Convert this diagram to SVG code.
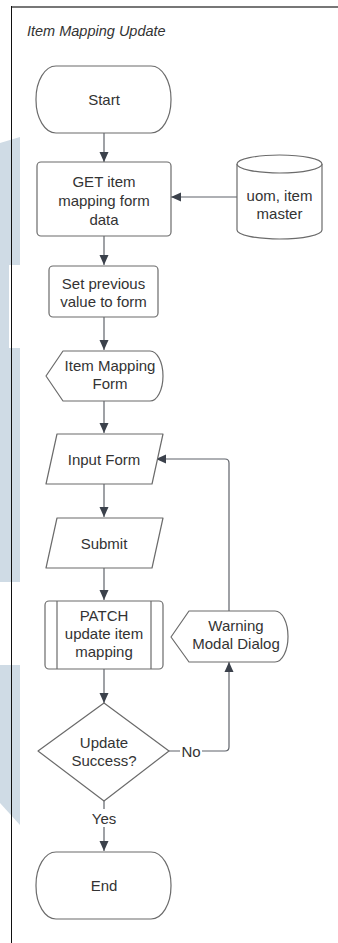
<svg xmlns="http://www.w3.org/2000/svg" width="338" height="943" viewBox="0 0 338 943">
  <style>
    .shape { fill: #ffffff; stroke: #6b6b6b; stroke-width: 1.2; stroke-linejoin: round; }
    .edge { fill: none; stroke: #5f636a; stroke-width: 1.2; }
    .label { font-family: "Liberation Sans", Arial, sans-serif; font-size: 15px; fill: #333333; text-anchor: middle; dominant-baseline: central; }
    .title { font-family: "Liberation Sans", Arial, sans-serif; font-size: 14.5px; font-style: italic; fill: #333333; }
    .band { fill: #cfdbe5; }
  </style>
  <defs>
    <marker id="arrow" viewBox="0 0 10 10" refX="10" refY="5" markerWidth="10" markerHeight="10" markerUnits="userSpaceOnUse" orient="auto">
      <path d="M0,0.5 L10,5 L0,9.5 Z" fill="#3b414b"/>
    </marker>
  </defs>

  <rect width="338" height="943" fill="#ffffff"/>

  <!-- side bands -->
  <g id="side-bands">
    <polygon class="band" points="0,143 20,137 20,265 0,265"/>
    <rect class="band" x="0" y="265" width="9" height="84"/>
    <rect class="band" x="0" y="348" width="20" height="234"/>
    <polygon class="band" points="0,665 20,665 20,825 0,803"/>
  </g>

  <!-- frame -->
  <g id="frame">
    <line x1="11" y1="7" x2="338" y2="7" stroke="#777777" stroke-width="2"/>
    <line x1="11.5" y1="6" x2="11.5" y2="943" stroke="#111111" stroke-width="1"/>
    <text class="title" x="27" y="36">Item Mapping Update</text>
  </g>

  <!-- connectors -->
  <g id="connectors">
    <path class="edge" d="M104,133 V162" marker-end="url(#arrow)"/>
    <path class="edge" d="M237,197 H171" marker-end="url(#arrow)"/>
    <path class="edge" d="M104,236 V265" marker-end="url(#arrow)"/>
    <path class="edge" d="M104,317 V350" marker-end="url(#arrow)"/>
    <path class="edge" d="M104,401 V433" marker-end="url(#arrow)"/>
    <path class="edge" d="M104,484 V517" marker-end="url(#arrow)"/>
    <path class="edge" d="M104,568 V600" marker-end="url(#arrow)"/>
    <path class="edge" d="M104,669 V703" marker-end="url(#arrow)"/>
    <path class="edge" d="M169,751 H225 Q229,751 229,747 V662" marker-end="url(#arrow)"/>
    <path class="edge" d="M229,611 V463 Q229,459 225,459 H156" marker-end="url(#arrow)"/>
    <path class="edge" d="M104,801 V851" marker-end="url(#arrow)"/>
    <rect x="180" y="743" width="22" height="16" fill="#ffffff"/>
    <text class="label" x="191" y="751">No</text>
    <rect x="90" y="809" width="28" height="18" fill="#ffffff"/>
    <text class="label" x="104" y="818">Yes</text>
  </g>

  <g id="start">
    <rect class="shape" x="36" y="66" width="135" height="67" rx="20" ry="33"/>
    <text class="label" x="104" y="99.5">Start</text>
  </g>

  <g id="get-form-data">
    <rect class="shape" x="37" y="162" width="134" height="74" rx="4"/>
    <text class="label" x="104" y="181.5">GET item</text>
    <text class="label" x="104" y="200.5">mapping form</text>
    <text class="label" x="104" y="219.5">data</text>
  </g>

  <g id="uom-item-master">
    <path class="shape" d="M237,164 A42.5,9 0 0 1 322,164 V230 A42.5,9 0 0 1 237,230 Z"/>
    <path class="shape" fill="none" d="M237,164 A42.5,9 0 0 0 322,164"/>
    <text class="label" x="279.5" y="195">uom, item</text>
    <text class="label" x="279.5" y="213">master</text>
  </g>

  <g id="set-previous-value">
    <rect class="shape" x="49" y="266" width="109" height="51" rx="4"/>
    <text class="label" x="103.5" y="283.5">Set previous</text>
    <text class="label" x="103.5" y="301.5">value to form</text>
  </g>

  <g id="item-mapping-form">
    <path class="shape" d="M46,376 L63,351 H150 A13,25 0 0 1 150,401 H63 Z"/>
    <text class="label" x="110" y="365">Item Mapping</text>
    <text class="label" x="110" y="383">Form</text>
  </g>

  <g id="input-form">
    <path class="shape" d="M57,434 H163 L152,484 H46 Z"/>
    <text class="label" x="104" y="459">Input Form</text>
  </g>

  <g id="submit">
    <path class="shape" d="M57,518 H163 L152,568 H46 Z"/>
    <text class="label" x="104" y="543">Submit</text>
  </g>

  <g id="patch-update-mapping">
    <rect class="shape" x="45" y="601" width="118" height="68" rx="4"/>
    <line class="shape" x1="57" y1="601" x2="57" y2="669"/>
    <line class="shape" x1="151" y1="601" x2="151" y2="669"/>
    <text class="label" x="104" y="615.5">PATCH</text>
    <text class="label" x="104" y="633.5">update item</text>
    <text class="label" x="104" y="651.5">mapping</text>
  </g>

  <g id="update-success">
    <path class="shape" d="M104,703 L169,751 L104,801 L38,751 Z"/>
    <text class="label" x="104" y="742">Update</text>
    <text class="label" x="104" y="760">Success?</text>
  </g>

  <g id="warning-dialog">
    <path class="shape" d="M171,637 L189,611 H275 A13,25.5 0 0 1 275,662 H189 Z"/>
    <text class="label" x="236" y="625">Warning</text>
    <text class="label" x="236" y="643">Modal Dialog</text>
  </g>

  <g id="end">
    <rect class="shape" x="36" y="852" width="135" height="67" rx="20" ry="33"/>
    <text class="label" x="104" y="885">End</text>
  </g>
</svg>
